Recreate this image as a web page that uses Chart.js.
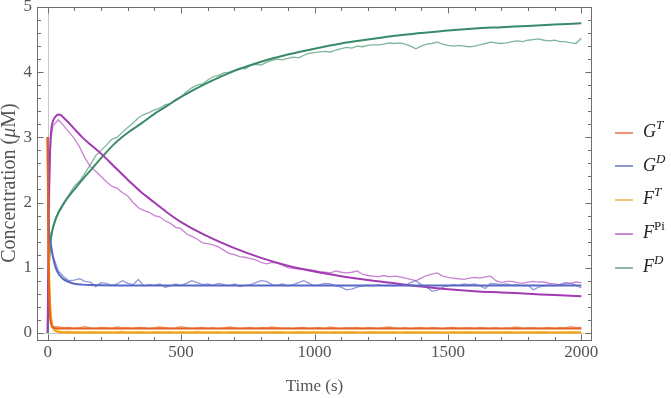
<!DOCTYPE html>
<html>
<head>
<meta charset="utf-8">
<script src="https://cdn.jsdelivr.net/npm/chart.js@4.4.1/dist/chart.umd.min.js"></script>
<style>
  body { margin: 0; background: #fff; }
  #wrap { position: relative; width: 671px; height: 398px; }
  #legend .item { position: absolute; left: 615px; height: 22px; line-height: 22px; white-space: nowrap;
    font-family: "Liberation Serif", serif; font-style: italic; font-size: 18px; color: #222; }
  #legend .sw { display: inline-block; width: 18px; height: 2px; vertical-align: middle; margin-right: 10px; }
  #legend sup { font-size: 13px; vertical-align: baseline; position: relative; top: -8px; }
  #legend sup.up { font-style: normal; }
</style>
</head>
<body>
<div id="wrap">
  <canvas id="chart" width="671" height="398"></canvas>
  <div id="legend"></div>
</div>
<script>
// time grid of the fitted (smooth) curves, seconds
const tSmooth = [0, 2, 4, 6, 9, 13, 20, 30, 40, 50, 60, 80, 100, 130, 160, 200, 250, 300, 350, 400, 450, 500,
  600, 700, 800, 900, 1000, 1100, 1200, 1300, 1400, 1500, 1600, 1700, 1800, 1900, 2000];

const gtSmooth = [3, 1.6, 0.9, 0.5, 0.25, 0.13, 0.08, 0.07, 0.066, 0.065, 0.065, 0.065, 0.065, 0.065, 0.065, 0.065,
  0.065, 0.065, 0.065, 0.065, 0.065, 0.065, 0.065, 0.065, 0.065, 0.065, 0.065, 0.065, 0.065, 0.065, 0.065, 0.065,
  0.065, 0.065, 0.065, 0.065, 0.065];
const gdSmooth = [3, 1.9, 1.65, 1.52, 1.42, 1.32, 1.16, 1.0, 0.91, 0.86, 0.82, 0.78, 0.755, 0.74, 0.733, 0.73,
  0.728, 0.727, 0.727, 0.727, 0.727, 0.727, 0.727, 0.727, 0.727, 0.727, 0.727, 0.727, 0.727, 0.727, 0.727, 0.727,
  0.727, 0.727, 0.727, 0.727, 0.727];
const ftSmooth = [3, 2.0, 1.3, 0.8, 0.45, 0.22, 0.08, 0.03, 0.015, 0.01, 0.007, 0.005, 0.005, 0.005, 0.005, 0.005,
  0.005, 0.005, 0.005, 0.005, 0.005, 0.005, 0.005, 0.005, 0.005, 0.005, 0.005, 0.005, 0.005, 0.005, 0.005, 0.005,
  0.005, 0.005, 0.005, 0.005, 0.005];
const fpiSmooth = [0, 0.9, 1.7, 2.3, 2.8, 3.1, 3.25, 3.32, 3.35, 3.34, 3.3, 3.22, 3.13, 3.0, 2.89, 2.75, 2.55, 2.35,
  2.16, 2.0, 1.84, 1.7, 1.48, 1.3, 1.15, 1.03, 0.94, 0.87, 0.81, 0.76, 0.71, 0.67, 0.64, 0.62, 0.6, 0.58, 0.56];
const fdSmooth = [0, 0.5, 0.9, 1.15, 1.35, 1.48, 1.62, 1.75, 1.84, 1.91, 1.98, 2.1, 2.2, 2.35, 2.49, 2.68, 2.9, 3.07,
  3.21, 3.36, 3.49, 3.62, 3.84, 4.02, 4.16, 4.27, 4.36, 4.44, 4.5, 4.56, 4.6, 4.64, 4.67, 4.69, 4.71, 4.73, 4.75];

// time grid of the simulated (noisy) traces
const tNoisy = [0, 2, 4, 6, 9, 13,
  20, 40, 60, 80, 100, 120, 140, 160, 180, 200,
  220, 240, 260, 280, 300, 320, 340, 360, 380, 400,
  420, 440, 460, 480, 500, 520, 540, 560, 580, 600,
  620, 640, 660, 680, 700, 720, 740, 760, 780, 800,
  820, 840, 860, 880, 900, 920, 940, 960, 980, 1000,
  1020, 1040, 1060, 1080, 1100, 1120, 1140, 1160, 1180, 1200,
  1220, 1240, 1260, 1280, 1300, 1320, 1340, 1360, 1380, 1400,
  1420, 1440, 1460, 1480, 1500, 1520, 1540, 1560, 1580, 1600,
  1620, 1640, 1660, 1680, 1700, 1720, 1740, 1760, 1780, 1800,
  1820, 1840, 1860, 1880, 1900, 1920, 1940, 1960, 1980, 2000];

const gtNoisy = [3, 1.7, 0.95, 0.55, 0.28, 0.15,
  0.1, 0.09, 0.08, 0.085, 0.07, 0.08, 0.095, 0.075, 0.07, 0.085,
  0.08, 0.07, 0.09, 0.075, 0.08, 0.07, 0.085, 0.08, 0.065, 0.075,
  0.09, 0.08, 0.07, 0.075, 0.095, 0.08, 0.07, 0.075, 0.085, 0.07,
  0.08, 0.065, 0.075, 0.09, 0.08, 0.07, 0.075, 0.085, 0.07, 0.08,
  0.075, 0.09, 0.08, 0.07, 0.075, 0.065, 0.08, 0.085, 0.07, 0.075,
  0.08, 0.07, 0.09, 0.075, 0.065, 0.08, 0.075, 0.085, 0.07, 0.08,
  0.075, 0.07, 0.08, 0.09, 0.075, 0.07, 0.08, 0.065, 0.075, 0.085,
  0.07, 0.08, 0.075, 0.065, 0.08, 0.085, 0.07, 0.075, 0.08, 0.07,
  0.085, 0.075, 0.07, 0.08, 0.065, 0.075, 0.08, 0.09, 0.07, 0.075,
  0.08, 0.07, 0.075, 0.085, 0.07, 0.08, 0.075, 0.095, 0.08, 0.085];
const gdNoisy = [3, 2.0, 1.7, 1.55, 1.45, 1.35,
  1.18, 0.95, 0.86, 0.8, 0.81, 0.83, 0.79, 0.78, 0.71, 0.77,
  0.76, 0.73, 0.75, 0.8, 0.76, 0.74, 0.82, 0.72, 0.74, 0.73,
  0.75, 0.7, 0.72, 0.75, 0.73, 0.76, 0.8, 0.77, 0.74, 0.75,
  0.73, 0.76, 0.74, 0.72, 0.75, 0.71, 0.73, 0.74, 0.77, 0.8,
  0.79, 0.74, 0.73, 0.75, 0.72, 0.74, 0.77, 0.8, 0.76, 0.72,
  0.74, 0.76, 0.75, 0.72, 0.7, 0.66, 0.67, 0.7, 0.72, 0.73,
  0.72, 0.74, 0.72, 0.73, 0.72, 0.74, 0.73, 0.77, 0.8, 0.74,
  0.7, 0.64, 0.65, 0.7, 0.72, 0.74, 0.73, 0.75, 0.74, 0.75,
  0.72, 0.68, 0.76, 0.75, 0.74, 0.75, 0.73, 0.74, 0.72, 0.73,
  0.66, 0.7, 0.72, 0.73, 0.72, 0.74, 0.77, 0.76, 0.73, 0.69];
const ftNoisy = [3, 2.05, 1.35, 0.85, 0.5, 0.27,
  0.09, 0.035, 0.02, 0.025, 0.015, 0.02, 0.01, 0.02, 0.015, 0.01,
  0.02, 0.01, 0.015, 0.025, 0.01, 0.015, 0.02, 0.01, 0.005, 0.015,
  0.02, 0.01, 0.015, 0.005, 0.02, 0.015, 0.01, 0.025, 0.01, 0.015,
  0.01, 0.02, 0.005, 0.015, 0.02, 0.01, 0.015, 0.01, 0.02, 0.005,
  0.015, 0.01, 0.02, 0.015, 0.005, 0.01, 0.02, 0.015, 0.01, 0.02,
  0.01, 0.015, 0.005, 0.02, 0.01, 0.015, 0.02, 0.01, 0.005, 0.015,
  0.02, 0.01, 0.015, 0.01, 0.02, 0.005, 0.015, 0.02, 0.01, 0.015,
  0.01, 0.02, 0.015, 0.005, 0.01, 0.02, 0.015, 0.01, 0.02, 0.01,
  0.015, 0.005, 0.02, 0.01, 0.015, 0.02, 0.01, 0.005, 0.015, 0.02,
  0.01, 0.015, 0.02, 0.01, 0.005, 0.015, 0.01, 0.02, 0.015, 0.01];
const fpiNoisy = [0, 0.85, 1.6, 2.2, 2.7, 3.0,
  3.18, 3.27, 3.18, 3.08, 2.98, 2.85, 2.68, 2.55, 2.48, 2.4,
  2.32, 2.25, 2.22, 2.15, 2.1, 2.0, 1.92, 1.88, 1.85, 1.8,
  1.78, 1.72, 1.68, 1.62, 1.6, 1.52, 1.48, 1.44, 1.38, 1.37,
  1.35, 1.32, 1.27, 1.22, 1.2, 1.17, 1.16, 1.14, 1.12, 1.08,
  1.06, 1.08, 1.07, 1.04, 1.0, 0.99, 0.98, 0.98, 0.97, 0.96,
  0.94, 0.93, 0.92, 0.95, 0.93, 0.92, 0.93, 0.95, 0.9, 0.88,
  0.87, 0.86, 0.88, 0.86, 0.87, 0.86, 0.84, 0.82, 0.8, 0.84,
  0.88, 0.9, 0.92, 0.87, 0.85, 0.84, 0.83, 0.82, 0.84, 0.85,
  0.84, 0.86, 0.87, 0.8, 0.77, 0.79, 0.79, 0.77, 0.76, 0.78,
  0.79, 0.78, 0.78, 0.76, 0.75, 0.74, 0.75, 0.76, 0.78, 0.77];
const fdNoisy = [0, 0.45, 0.85, 1.1, 1.3, 1.45,
  1.6, 1.86, 2.0, 2.12, 2.25, 2.33, 2.45, 2.58, 2.72, 2.8,
  2.88, 2.97, 3.0, 3.08, 3.15, 3.22, 3.3, 3.35, 3.38, 3.42,
  3.45, 3.5, 3.52, 3.58, 3.62, 3.7, 3.76, 3.8, 3.82, 3.88,
  3.93, 3.95, 3.99, 4.0, 4.03, 4.06, 4.05, 4.1, 4.12, 4.11,
  4.15, 4.18, 4.2, 4.19, 4.21, 4.23, 4.22, 4.26, 4.29, 4.3,
  4.31, 4.32, 4.31, 4.34, 4.36, 4.38, 4.37, 4.4, 4.39, 4.41,
  4.42, 4.42, 4.43, 4.45, 4.44, 4.45, 4.43, 4.4, 4.36, 4.4,
  4.43, 4.44, 4.46, 4.43, 4.41, 4.4, 4.41, 4.4, 4.39, 4.4,
  4.42, 4.44, 4.46, 4.45, 4.44, 4.45, 4.47, 4.48, 4.47, 4.49,
  4.5, 4.51, 4.49, 4.48, 4.49, 4.47, 4.47, 4.45, 4.44, 4.52];

const seriesNames = ['G', 'G', 'F', 'F', 'F'];
const seriesSups = ['T', 'D', 'T', 'Pi', 'D'];
const smoothColors = ['#e8601c', '#5868c4', '#f5a20a', '#a23ab2', '#3a8a6a'];
const noisyColors = ['rgba(238,115,60,0.75)', 'rgba(105,118,205,0.75)', 'rgba(248,178,60,0.7)',
  'rgba(188,100,200,0.8)', 'rgba(105,168,138,0.85)'];
const legendColors = ['#ee9272', '#9098d4', '#f6c274', '#c88ad4', '#8ab8a2'];

const xTicks = [0, 500, 1000, 1500, 2000];
const yTicks = [0, 1, 2, 3, 4, 5];
const yTitleParts = [['Concentration (', 'normal'], ['μ', 'italic'], ['M)', 'normal']];

const smoothSets = [gtSmooth, gdSmooth, ftSmooth, fpiSmooth, fdSmooth];
const noisySets = [gtNoisy, gdNoisy, ftNoisy, fpiNoisy, fdNoisy];

const toPts = (ts, ys) => ts.map((t, i) => ({x: t, y: ys[i]}));

const datasets = [];
noisySets.forEach((ys, i) => {
  datasets.push({
    label: seriesNames[i] + seriesSups[i] + ' data',
    data: toPts(tNoisy, ys),
    borderColor: noisyColors[i],
    borderWidth: 1.3,
    pointRadius: 0,
    tension: 0,
    order: 2
  });
});
smoothSets.forEach((ys, i) => {
  datasets.push({
    label: seriesNames[i] + seriesSups[i],
    data: toPts(tSmooth, ys),
    borderColor: smoothColors[i],
    borderWidth: 2,
    pointRadius: 0,
    cubicInterpolationMode: 'monotone',
    order: 1
  });
});

const textColor = '#555';
const serif = '"Liberation Serif", "Times New Roman", serif';

// Mathematica-like frame: box with inward ticks on every side, plus the axes at zero
const framePlugin = {
  id: 'frame',
  beforeDatasetsDraw(chart) {
    const {ctx, chartArea: a, scales: {x, y}} = chart;
    ctx.save();
    ctx.strokeStyle = '#c8c8c8';
    ctx.lineWidth = 1;
    const x0 = Math.round(x.getPixelForValue(0)) + 0.5;
    const y0 = Math.round(y.getPixelForValue(0)) + 0.5;
    ctx.beginPath();
    ctx.moveTo(x0, a.top); ctx.lineTo(x0, a.bottom);
    ctx.moveTo(a.left, y0); ctx.lineTo(a.right, y0);
    ctx.stroke();
    ctx.restore();
  },
  afterDatasetsDraw(chart) {
    const {ctx, chartArea: a, scales: {x, y}} = chart;
    ctx.save();
    ctx.strokeStyle = '#6e6e6e';
    ctx.lineWidth = 1;
    const L = Math.round(a.left) + 0.5, R = Math.round(a.right) - 0.5;
    const T = Math.round(a.top) + 0.5, B = Math.round(a.bottom) - 0.5;
    ctx.strokeRect(L, T, R - L, B - T);
    ctx.beginPath();
    for (let v = 0; v <= 2000; v += 100) {
      const len = xTicks.includes(v) ? 6 : 3.5;
      const px = Math.round(x.getPixelForValue(v)) + 0.5;
      ctx.moveTo(px, B); ctx.lineTo(px, B - len);
      ctx.moveTo(px, T); ctx.lineTo(px, T + len);
    }
    for (let k = 0; k <= 25; k++) {
      const v = k / 5;
      const len = k % 5 === 0 ? 6 : 3.5;
      const py = Math.round(y.getPixelForValue(v)) + 0.5;
      ctx.moveTo(L, py); ctx.lineTo(L + len, py);
      ctx.moveTo(R, py); ctx.lineTo(R - len, py);
    }
    ctx.stroke();

    // y title, with an italic mu
    ctx.fillStyle = textColor;
    ctx.translate(15, 183);
    ctx.rotate(-Math.PI / 2);
    ctx.textBaseline = 'alphabetic';
    ctx.textAlign = 'left';
    const fontFor = st => (st === 'italic' ? 'italic ' : '') + '20px ' + serif;
    let total = 0;
    yTitleParts.forEach(([s, st]) => { ctx.font = fontFor(st); total += ctx.measureText(s).width; });
    let pos = -total / 2;
    yTitleParts.forEach(([s, st]) => {
      ctx.font = fontFor(st);
      ctx.fillText(s, pos, 0);
      pos += ctx.measureText(s).width;
    });
    ctx.restore();
  }
};

new Chart(document.getElementById('chart'), {
  type: 'line',
  data: {datasets},
  options: {
    responsive: false,
    animation: false,
    devicePixelRatio: 1,
    layout: {padding: {top: 7, right: 79, left: 0, bottom: 0}},
    plugins: {legend: {display: false}, tooltip: {enabled: false}},
    scales: {
      x: {
        type: 'linear', min: -40, max: 2040,
        grid: {display: false, drawTicks: false}, border: {display: false},
        ticks: {font: {family: serif, size: 17}, color: textColor, padding: 1, maxRotation: 0,
          callback: v => String(v)},
        afterBuildTicks: s => { s.ticks = xTicks.map(v => ({value: v})); },
        afterFit: s => { s.height = 57; s.paddingLeft = 0; s.paddingRight = 0; },
        title: {display: true, text: 'Time (s)', font: {family: serif, size: 17, lineHeight: 1}, color: textColor,
          padding: {top: 0, bottom: 2.5}}
      },
      y: {
        type: 'linear', min: -0.125, max: 5,
        grid: {display: false, drawTicks: false}, border: {display: false},
        ticks: {font: {family: serif, size: 17}, color: textColor, padding: 5,
          callback: v => String(v)},
        afterBuildTicks: s => { s.ticks = yTicks.map(v => ({value: v})); },
        afterFit: s => { s.width = 37; s.paddingTop = 0; s.paddingBottom = 0; },
        title: {display: false}
      }
    }
  },
  plugins: [framePlugin]
});

// legend with superscripts, built as HTML text
const legendCenters = [131, 164.5, 198, 232, 266];
const legend = document.getElementById('legend');
seriesNames.forEach((n, i) => {
  const item = document.createElement('div');
  item.className = 'item';
  item.style.top = (legendCenters[i] - 11) + 'px';
  const sw = document.createElement('span');
  sw.className = 'sw';
  sw.style.background = legendColors[i];
  item.appendChild(sw);
  item.appendChild(document.createTextNode(n));
  const sup = document.createElement('sup');
  sup.textContent = seriesSups[i];
  if (seriesSups[i] === 'Pi') sup.className = 'up';
  item.appendChild(sup);
  legend.appendChild(item);
});
</script>
</body>
</html>
